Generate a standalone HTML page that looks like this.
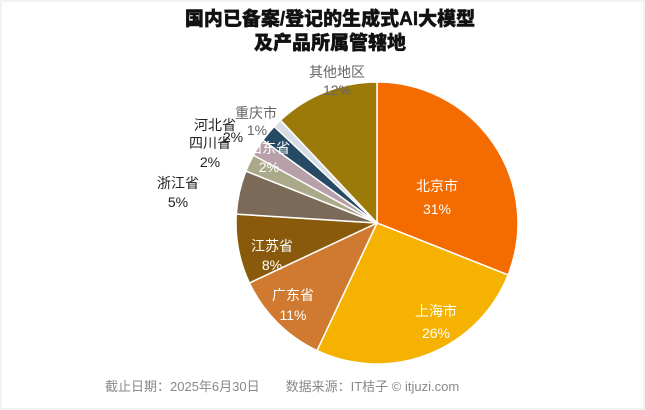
<!DOCTYPE html>
<html><head><meta charset="utf-8"><style>
body{margin:0;background:#fff;}
svg{display:block;font-family:"Liberation Sans","Noto Sans CJK SC",sans-serif;}
</style></head><body>
<svg width="645" height="410" viewBox="0 0 645 410">
<rect x="0" y="0" width="645" height="410" fill="#fff"/>
<rect x="1" y="1" width="643" height="408" fill="none" stroke="#e6e6e6"/>
<text x="330" y="25" text-anchor="middle" font-size="19" font-weight="900" fill="#111" stroke="#111" stroke-width="0.4">国内已备案/登记的生成式AI大模型</text>
<text x="330" y="49" text-anchor="middle" font-size="19" font-weight="900" fill="#111" stroke="#111" stroke-width="0.4">及产品所属管辖地</text>
<g stroke="#fff" stroke-width="1.5">
<path d="M377,223 L377,82 A141,141 0 0 1 508.1,274.9 Z" fill="#f46b00"/>
<path d="M377,223 L508.1,274.9 A141,141 0 0 1 317.0,350.6 Z" fill="#f5b200"/>
<path d="M377,223 L317.0,350.6 A141,141 0 0 1 249.4,283.0 Z" fill="#cf7a30"/>
<path d="M377,223 L249.4,283.0 A141,141 0 0 1 236.3,214.1 Z" fill="#8a5a0c"/>
<path d="M377,223 L236.3,214.1 A141,141 0 0 1 245.9,171.1 Z" fill="#7b6a58"/>
<path d="M377,223 L245.9,171.1 A141,141 0 0 1 253.4,155.1 Z" fill="#aaa98a"/>
<path d="M377,223 L253.4,155.1 A141,141 0 0 1 262.9,140.1 Z" fill="#b8a0aa"/>
<path d="M377,223 L262.9,140.1 A141,141 0 0 1 274.2,126.5 Z" fill="#264a64"/>
<path d="M377,223 L274.2,126.5 A141,141 0 0 1 280.5,120.2 Z" fill="#d7dde2"/>
<path d="M377,223 L280.5,120.2 A141,141 0 0 1 377,82 Z" fill="#9b7a0a"/>
</g>
<g font-size="14" text-anchor="middle">
<text x="437" y="191" fill="#fff">北京市</text><text x="437" y="214" fill="#fff">31%</text>
<text x="436" y="316" fill="#fff">上海市</text><text x="436" y="338" fill="#fff">26%</text>
<text x="293" y="300" fill="#fff">广东省</text><text x="293" y="320" fill="#fff">11%</text>
<text x="272" y="251" fill="#fff">江苏省</text><text x="272" y="270" fill="#fff">8%</text>
<text x="178" y="188" fill="#222">浙江省</text><text x="178" y="207" fill="#222">5%</text>
<text x="210" y="148" fill="#222">四川省</text><text x="210" y="167" fill="#222">2%</text>
<text x="215" y="130" fill="#222">河北省</text><text x="233" y="142" fill="#222">2%</text>
<text x="256" y="118" fill="#666">重庆市</text><text x="257" y="135" fill="#666">1%</text>
<text x="269" y="153" fill="#fff">山东省</text><text x="269" y="172" fill="#fff">2%</text>
<text x="337" y="77" fill="#666">其他地区</text><text x="337" y="95" fill="#666">12%</text>
</g>
<text x="105" y="391" font-size="13" fill="#888">截止日期：2025年6月30日　　数据来源：IT桔子 © itjuzi.com</text>
</svg>
</body></html>
